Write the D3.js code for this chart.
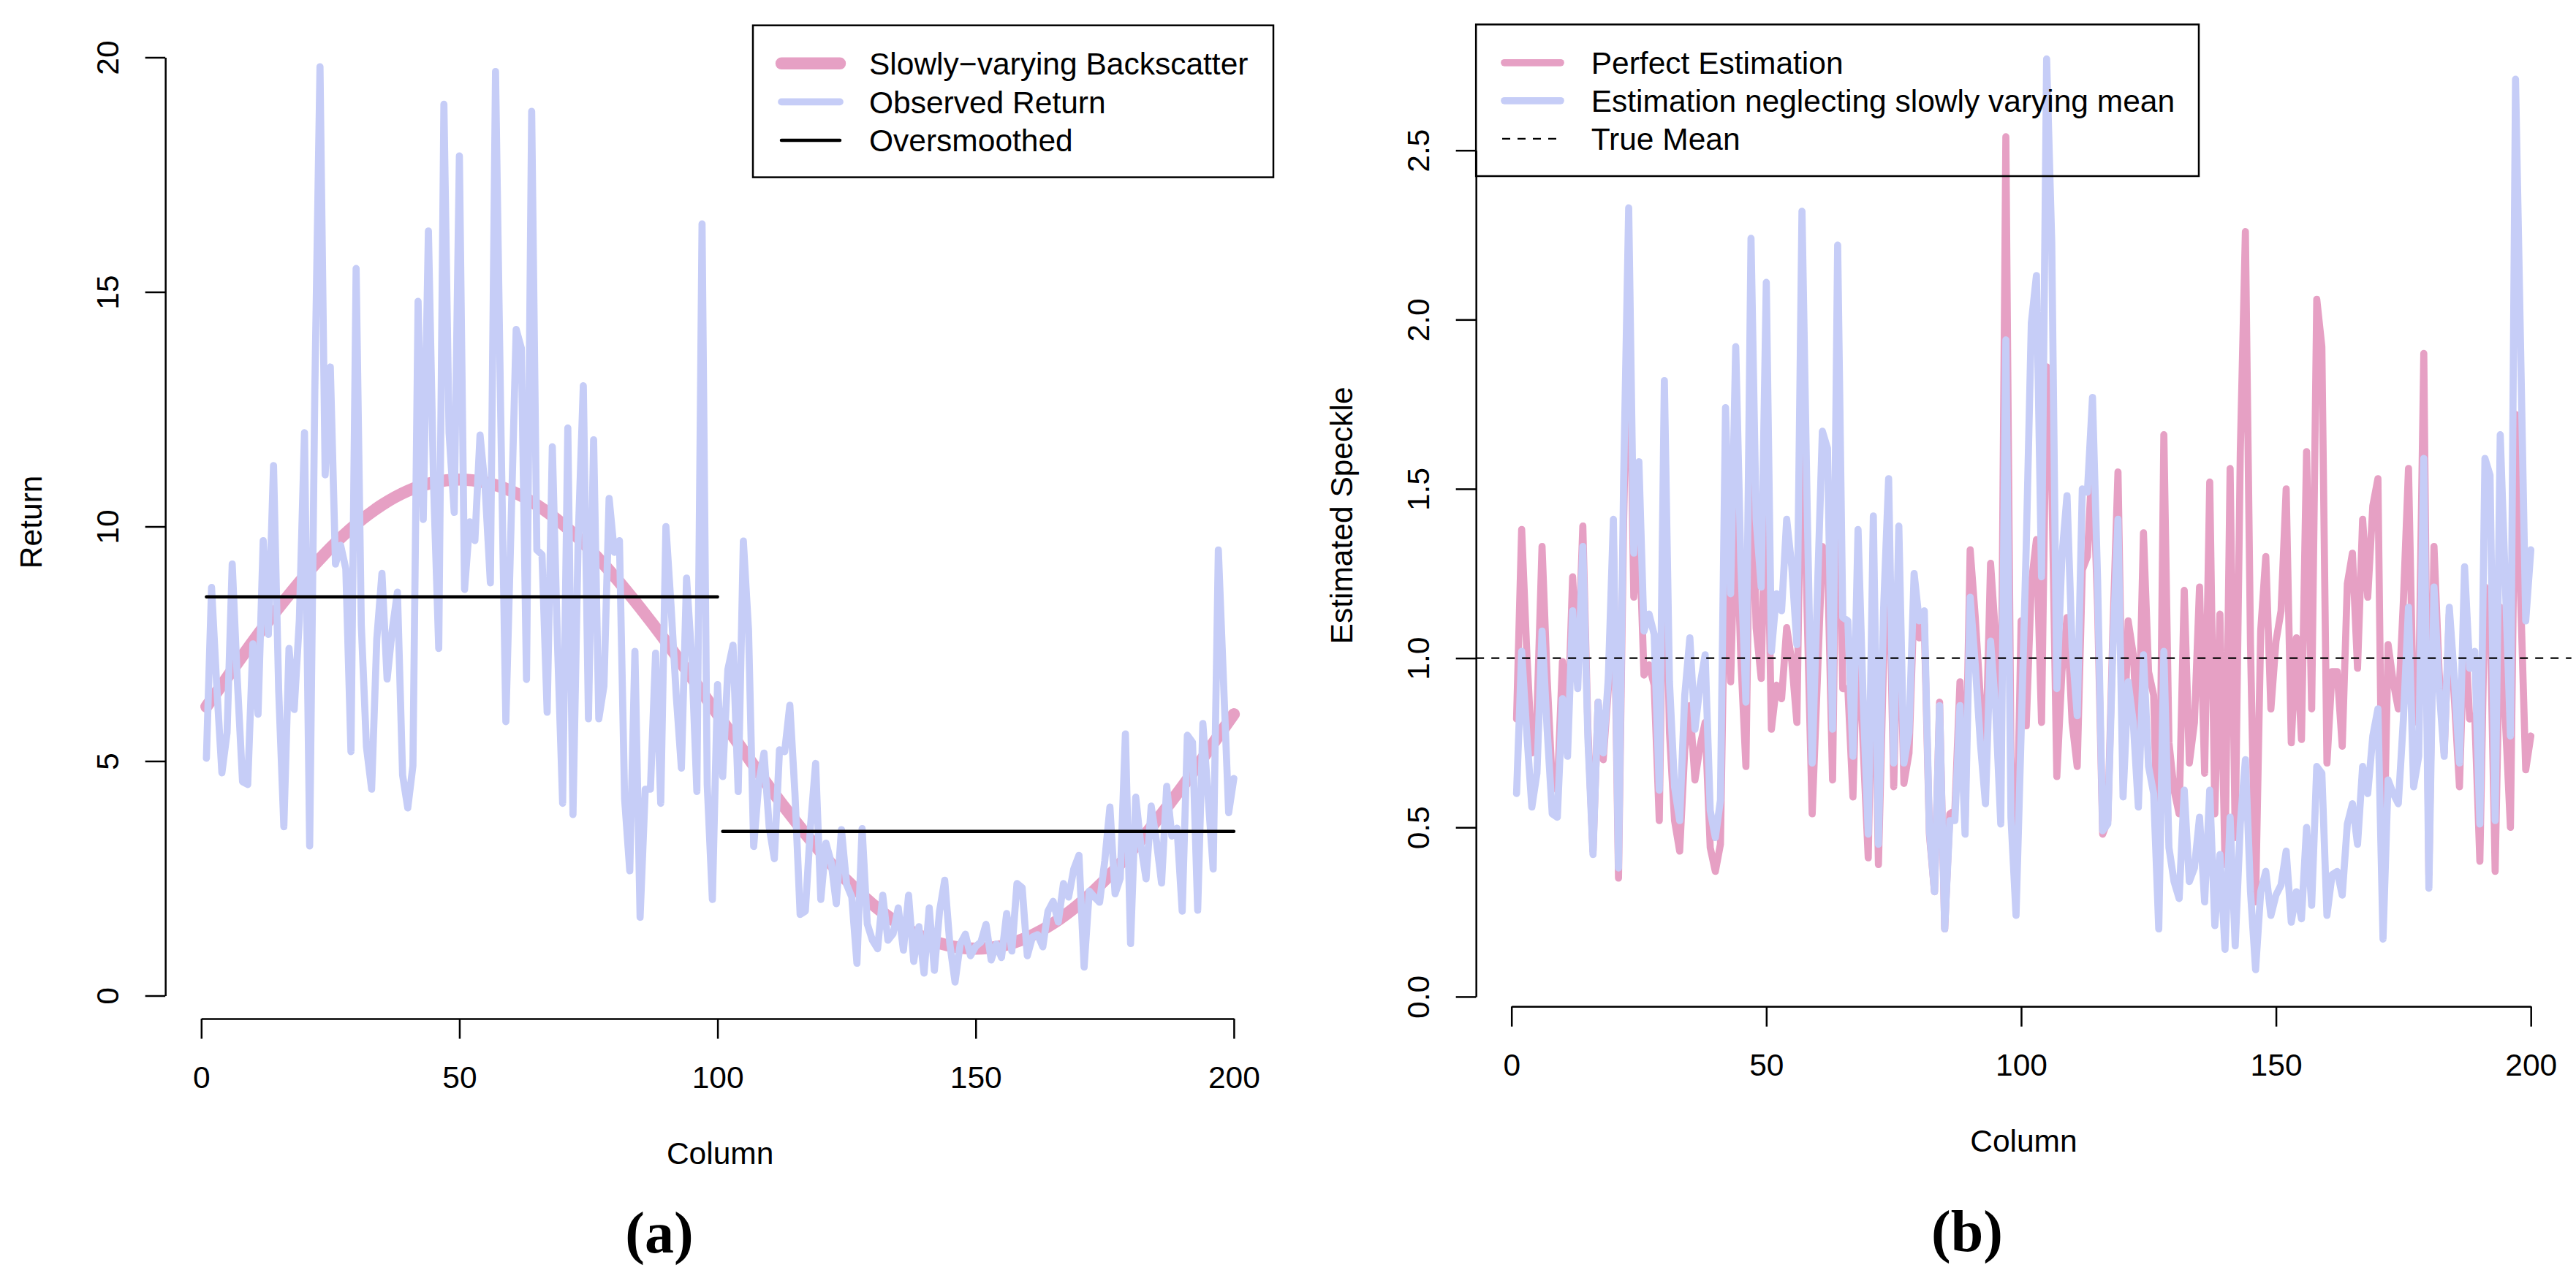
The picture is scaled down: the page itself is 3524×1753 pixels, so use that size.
<!DOCTYPE html>
<html lang="en">
<head>
<meta charset="utf-8">
<title>Backscatter and speckle</title>
<script src="https://cdn.jsdelivr.net/npm/d3@7"></script>
<style>
  body { margin: 0; background: white; }
  svg text { font-family: "Liberation Sans", Arial, Helvetica, sans-serif; }
  .panel-tag { font-family: "Liberation Serif", "Times New Roman", serif; font-weight: bold; }
</style>
</head>
<body>
<svg id="chart" width="3524" height="1753"></svg>
<script>
// ---- data ----
const columns = d3.range(1, 201);

// (a) observed return, one value per column
const observedReturn = [
  5.06, 8.7, 6.6, 4.75, 5.6, 9.2, 6.7, 4.56, 4.5, 7.5,
  6.0, 9.7, 7.7, 11.3, 6.5, 3.6, 7.4, 6.1, 8.0, 12.0,
  3.19, 12.9, 19.8, 11.1, 13.4, 9.2, 9.6, 9.1, 5.2, 15.5,
  7.9, 5.3, 4.4, 7.6, 9.0, 6.75, 7.8, 8.6, 4.7, 4.0,
  4.9, 14.8, 10.15, 16.3, 10.9, 7.4, 19.0, 12.0, 10.3, 17.9,
  8.66, 10.1, 9.7, 11.95, 10.8, 8.8, 19.7, 12.4, 5.84, 10.0,
  14.2, 13.8, 6.74, 18.85, 9.5, 9.4, 6.04, 11.7, 7.5, 4.1,
  12.1, 3.86, 9.7, 13.0, 5.9, 11.85, 5.9, 6.6, 10.6, 9.45,
  9.7, 4.2, 2.66, 7.34, 1.67, 4.4, 4.4, 7.3, 4.1, 10.0,
  8.3, 6.4, 4.85, 8.9, 7.2, 4.35, 16.45, 4.5, 2.05, 6.63,
  4.67, 6.95, 7.47, 4.35, 9.69, 7.8, 3.18, 4.55, 5.17, 3.6,
  2.92, 5.24, 5.2, 6.19, 4.3, 1.73, 1.8, 3.6, 4.95, 2.05,
  3.25, 2.85, 1.96, 3.54, 2.37, 2.1, 0.69, 3.56, 1.53, 1.18,
  1.0, 2.14, 1.18, 1.32, 1.87, 0.97, 2.14, 0.73, 1.47, 0.48,
  1.87, 0.54, 1.8, 2.46, 1.1, 0.29, 1.1, 1.31, 0.85, 1.05,
  1.14, 1.52, 0.76, 1.1, 0.81, 1.75, 0.95, 2.39, 2.3, 0.85,
  1.25, 1.3, 1.04, 1.8, 2.01, 1.57, 2.39, 2.1, 2.7, 2.99,
  0.61, 2.23, 2.1, 1.99, 2.87, 4.02, 2.17, 2.5, 5.58, 1.11,
  4.23, 3.2, 2.49, 4.04, 3.3, 2.4, 4.46, 3.4, 3.57, 1.8,
  5.55, 5.4, 1.82, 5.8, 4.27, 2.7, 9.5, 6.7, 3.9, 4.63
];

// (a) slowly-varying backscatter, read every 5 columns
const backscatterColumns = [1, 5, 10, 15, 20, 25, 30, 35, 40, 45, 50, 55, 60, 65, 70, 75, 80, 85, 90, 95,
  100, 105, 110, 115, 120, 125, 130, 135, 140, 145, 150, 155, 160, 165, 170, 175, 180, 185, 190, 195, 200];
const backscatter = [6.16, 6.78, 7.55, 8.27, 8.94, 9.54, 10.05, 10.46, 10.76, 10.94, 11.0, 10.94, 10.76, 10.46,
  10.05, 9.54, 8.94, 8.27, 7.55, 6.78, 6.0, 5.22, 4.45, 3.73, 3.06, 2.46, 1.95, 1.54, 1.24, 1.06, 1.0,
  1.06, 1.24, 1.54, 1.95, 2.46, 3.06, 3.73, 4.45, 5.22, 6.0];

// (a) oversmoothed: two flat pieces
const oversmoothedFrom = [1, 101];
const oversmoothedTo = [100, 200];
const oversmoothedLevel = [8.5, 3.5];

// (b) estimated speckle
const perfectEstimation = [
  0.82, 1.38, 1.02, 0.72, 0.83, 1.33, 0.94, 0.63, 0.61, 0.99,
  0.78, 1.24, 0.96, 1.39, 0.79, 0.43, 0.87, 0.70, 0.91, 1.34,
  0.35, 1.40, 2.13, 1.18, 1.40, 0.95, 0.98, 0.92, 0.52, 1.54,
  0.78, 0.52, 0.43, 0.73, 0.86, 0.64, 0.74, 0.81, 0.44, 0.37,
  0.45, 1.37, 0.93, 1.49, 1.00, 0.68, 1.73, 1.09, 0.94, 1.63,
  0.79, 0.92, 0.88, 1.09, 0.99, 0.81, 1.81, 1.14, 0.54, 0.93,
  1.33, 1.30, 0.64, 1.79, 0.91, 0.91, 0.59, 1.14, 0.74, 0.41,
  1.22, 0.39, 0.99, 1.35, 0.62, 1.26, 0.63, 0.72, 1.17, 1.06,
  1.10, 0.48, 0.31, 0.87, 0.20, 0.54, 0.55, 0.93, 0.53, 1.32,
  1.12, 0.88, 0.68, 1.28, 1.06, 0.66, 2.54, 0.71, 0.33, 1.11,
  0.80, 1.22, 1.35, 0.81, 1.86, 1.54, 0.65, 0.96, 1.12, 0.81,
  0.68, 1.26, 1.30, 1.60, 1.15, 0.48, 0.52, 1.08, 1.55, 0.67,
  1.11, 1.01, 0.73, 1.37, 0.96, 0.89, 0.31, 1.66, 0.75, 0.61,
  0.54, 1.20, 0.69, 0.81, 1.21, 0.66, 1.52, 0.54, 1.13, 0.39,
  1.56, 0.47, 1.61, 2.26, 1.04, 0.28, 1.08, 1.30, 0.85, 1.05,
  1.14, 1.50, 0.75, 1.06, 0.76, 1.61, 0.85, 2.06, 1.92, 0.69,
  0.96, 0.96, 0.74, 1.22, 1.31, 0.97, 1.41, 1.18, 1.45, 1.53,
  0.30, 1.04, 0.93, 0.85, 1.17, 1.56, 0.81, 0.89, 1.90, 0.36,
  1.33, 0.96, 0.72, 1.13, 0.88, 0.62, 1.11, 0.82, 0.83, 0.40,
  1.21, 1.13, 0.37, 1.15, 0.82, 0.50, 1.72, 1.18, 0.67, 0.77
];
const neglectingMean = [
  0.60, 1.02, 0.78, 0.56, 0.66, 1.08, 0.79, 0.54, 0.53, 0.88,
  0.71, 1.14, 0.91, 1.33, 0.76, 0.42, 0.87, 0.72, 0.94, 1.41,
  0.38, 1.52, 2.33, 1.31, 1.58, 1.08, 1.13, 1.07, 0.61, 1.82,
  0.93, 0.62, 0.52, 0.89, 1.06, 0.79, 0.92, 1.01, 0.55, 0.47,
  0.58, 1.74, 1.19, 1.92, 1.28, 0.87, 2.24, 1.41, 1.21, 2.11,
  1.02, 1.19, 1.14, 1.41, 1.27, 1.04, 2.32, 1.46, 0.69, 1.18,
  1.67, 1.62, 0.79, 2.22, 1.12, 1.11, 0.71, 1.38, 0.88, 0.48,
  1.42, 0.45, 1.14, 1.53, 0.69, 1.39, 0.69, 0.78, 1.25, 1.11,
  1.14, 0.49, 0.31, 0.86, 0.20, 0.52, 0.52, 0.86, 0.48, 1.18,
  0.98, 0.75, 0.57, 1.05, 0.85, 0.51, 1.94, 0.53, 0.24, 0.78,
  1.33, 1.99, 2.13, 1.24, 2.77, 2.23, 0.91, 1.30, 1.48, 1.03,
  0.83, 1.50, 1.49, 1.77, 1.23, 0.49, 0.51, 1.03, 1.41, 0.59,
  0.93, 0.81, 0.56, 1.01, 0.68, 0.60, 0.20, 1.02, 0.44, 0.34,
  0.29, 0.61, 0.34, 0.38, 0.53, 0.28, 0.61, 0.21, 0.42, 0.14,
  0.53, 0.15, 0.51, 0.70, 0.31, 0.08, 0.31, 0.37, 0.24, 0.30,
  0.33, 0.43, 0.22, 0.31, 0.23, 0.50, 0.27, 0.68, 0.66, 0.24,
  0.36, 0.37, 0.30, 0.51, 0.57, 0.45, 0.68, 0.60, 0.77, 0.85,
  0.17, 0.64, 0.60, 0.57, 0.82, 1.15, 0.62, 0.71, 1.59, 0.32,
  1.21, 0.91, 0.71, 1.15, 0.94, 0.69, 1.27, 0.97, 1.02, 0.51,
  1.59, 1.54, 0.52, 1.66, 1.22, 0.77, 2.71, 1.91, 1.11, 1.32
];
const trueMean = 1;

// ticks and labels
const columnTicks = [0, 50, 100, 150, 200];
const returnTicks = [0, 5, 10, 15, 20];
const speckleTicks = [0, 0.5, 1, 1.5, 2, 2.5];
const speckleTickLabels = ["0.0", "0.5", "1.0", "1.5", "2.0", "2.5"];
const legendA = ["Slowly\u2212varying Backscatter", "Observed Return", "Oversmoothed"];
const legendB = ["Perfect Estimation", "Estimation neglecting slowly varying mean", "True Mean"];

const PINK = "#E6A0C4";
const BLUE = "#C6CDF7";
const FONT = 42.5;

const svg = d3.select("#chart");

// ---- scales (ticks 0..200 / 0..20 span the axis lines) ----
const xA = d3.scaleLinear().domain([0, 200]).range([275.3, 1687.9]);
const yA = d3.scaleLinear().domain([0, 20]).range([1362.5, 78.5]);
const xB = d3.scaleLinear().domain([0, 200]).range([2067.7, 3462.2]);
const yB = d3.scaleLinear().domain([0, 2.5]).range([1363.9, 205.7]);

// plot regions (R style, 4% beyond the data)
const regionA = { x0: xA(1 - 7.96), x1: xA(207.96), y0: 34.7, y1: 1394 };
const regionB = { x0: xB(1 - 7.96), x1: xB(207.96), y0: 33.5, y1: 1377.3 };

const defs = svg.append("defs");
[["clipA", regionA], ["clipB", regionB]].forEach(([id, r]) => {
  defs.append("clipPath").attr("id", id)
    .append("rect")
    .attr("x", r.x0).attr("y", r.y0)
    .attr("width", r.x1 - r.x0).attr("height", r.y1 - r.y0);
});

function drawAxes(x, y, region, yTicks, yFormat, xTitle, yTitle) {
  const gx = svg.append("g")
    .attr("transform", `translate(0,${region.y1})`)
    .call(d3.axisBottom(x).tickValues(columnTicks).tickSize(27.5).tickSizeOuter(0));
  const gy = svg.append("g")
    .attr("transform", `translate(${region.x0},0)`)
    .call(d3.axisLeft(y).tickValues(yTicks).tickFormat(yFormat).tickSize(27.5).tickSizeOuter(0));

  [gx, gy].forEach(g => {
    g.attr("font-family", null).attr("font-size", null);
    g.select(".domain").attr("stroke-width", 2.5);
    g.selectAll(".tick line").attr("stroke-width", 2.5);
    g.selectAll(".tick text").attr("font-size", FONT).attr("fill", "black");
  });
  gx.selectAll(".tick text").attr("y", 95).attr("dy", null);
  gy.selectAll(".tick text")
    .attr("x", null).attr("dy", null)
    .attr("text-anchor", "middle")
    .attr("transform", "translate(-64,0) rotate(-90)");

  svg.append("text")
    .attr("x", (region.x0 + region.x1) / 2).attr("y", region.y1 + 199)
    .attr("text-anchor", "middle").attr("font-size", FONT)
    .text(xTitle);
  svg.append("text")
    .attr("transform", `translate(${region.x0 - 169.5},${(region.y0 + region.y1) / 2}) rotate(-90)`)
    .attr("text-anchor", "middle").attr("font-size", FONT)
    .text(yTitle);
}

function addLine(clip, values, xs, x, y, color, width, curve) {
  const line = d3.line()
    .x((d, i) => x(xs[i]))
    .y(d => y(d));
  if (curve) line.curve(curve);
  svg.append("path")
    .datum(values)
    .attr("clip-path", `url(#${clip})`)
    .attr("fill", "none")
    .attr("stroke", color)
    .attr("stroke-width", width)
    .attr("stroke-linejoin", "round")
    .attr("stroke-linecap", "round")
    .attr("d", line);
}

// ---- panel (a) ----
addLine("clipA", backscatter, backscatterColumns, xA, yA, PINK, 16.5, d3.curveNatural);
addLine("clipA", observedReturn, columns, xA, yA, BLUE, 9.7);
oversmoothedLevel.forEach((lvl, i) => {
  svg.append("line")
    .attr("x1", xA(oversmoothedFrom[i])).attr("x2", xA(oversmoothedTo[i]))
    .attr("y1", yA(lvl)).attr("y2", yA(lvl))
    .attr("stroke", "black").attr("stroke-width", 4.5)
    .attr("stroke-linecap", "round");
});
drawAxes(xA, yA, regionA, returnTicks, d3.format("d"), "Column", "Return");

// legend (a), top right
svg.append("rect")
  .attr("x", 1030).attr("y", regionA.y0)
  .attr("width", 1742 - 1030).attr("height", 242.6 - regionA.y0)
  .attr("fill", "none").attr("stroke", "black").attr("stroke-width", 2.5);
const legendAStyle = [[PINK, 16.5], [BLUE, 9.7], ["black", 4.5]];
legendA.forEach((label, i) => {
  const base = 102 + i * 52.6;
  svg.append("line")
    .attr("x1", 1069).attr("x2", 1149)
    .attr("y1", base - 15.2).attr("y2", base - 15.2)
    .attr("stroke", legendAStyle[i][0]).attr("stroke-width", legendAStyle[i][1])
    .attr("stroke-linecap", "round");
  svg.append("text")
    .attr("x", 1189).attr("y", base)
    .attr("font-size", FONT)
    .text(label);
});

// ---- panel (b) ----
addLine("clipB", perfectEstimation, columns, xB, yB, PINK, 9.7);
addLine("clipB", neglectingMean, columns, xB, yB, BLUE, 9.7);
svg.append("line")
  .attr("clip-path", "url(#clipB)")
  .attr("x1", regionB.x0).attr("x2", regionB.x1 + 8)
  .attr("y1", yB(trueMean)).attr("y2", yB(trueMean))
  .attr("stroke", "black").attr("stroke-width", 2.2)
  .attr("stroke-dasharray", "11,10");
drawAxes(xB, yB, regionB, speckleTicks, (d, i) => speckleTickLabels[i], "Column", "Estimated Speckle");

// legend (b), top left
svg.append("rect")
  .attr("x", regionB.x0).attr("y", regionB.y0)
  .attr("width", 3008 - regionB.x0).attr("height", 241 - regionB.y0)
  .attr("fill", "none").attr("stroke", "black").attr("stroke-width", 2.5);
const legendBStyle = [[PINK, 9.7, null], [BLUE, 9.7, null], ["black", 2.2, "11,10"]];
legendB.forEach((label, i) => {
  const base = 101 + i * 52;
  svg.append("line")
    .attr("x1", legendBStyle[i][2] ? 2055 : 2058).attr("x2", 2135)
    .attr("y1", base - 15.2).attr("y2", base - 15.2)
    .attr("stroke", legendBStyle[i][0]).attr("stroke-width", legendBStyle[i][1])
    .attr("stroke-dasharray", legendBStyle[i][2])
    .attr("stroke-linecap", legendBStyle[i][2] ? "butt" : "round");
  svg.append("text")
    .attr("x", 2176.7).attr("y", base)
    .attr("font-size", FONT)
    .text(label);
});

// ---- panel tags ----
svg.append("text").attr("class", "panel-tag")
  .attr("x", 902).attr("y", 1714).attr("text-anchor", "middle")
  .attr("font-size", 80).text("(a)");
svg.append("text").attr("class", "panel-tag")
  .attr("x", 2691).attr("y", 1712).attr("text-anchor", "middle")
  .attr("font-size", 80).text("(b)");
</script>
</body>
</html>
